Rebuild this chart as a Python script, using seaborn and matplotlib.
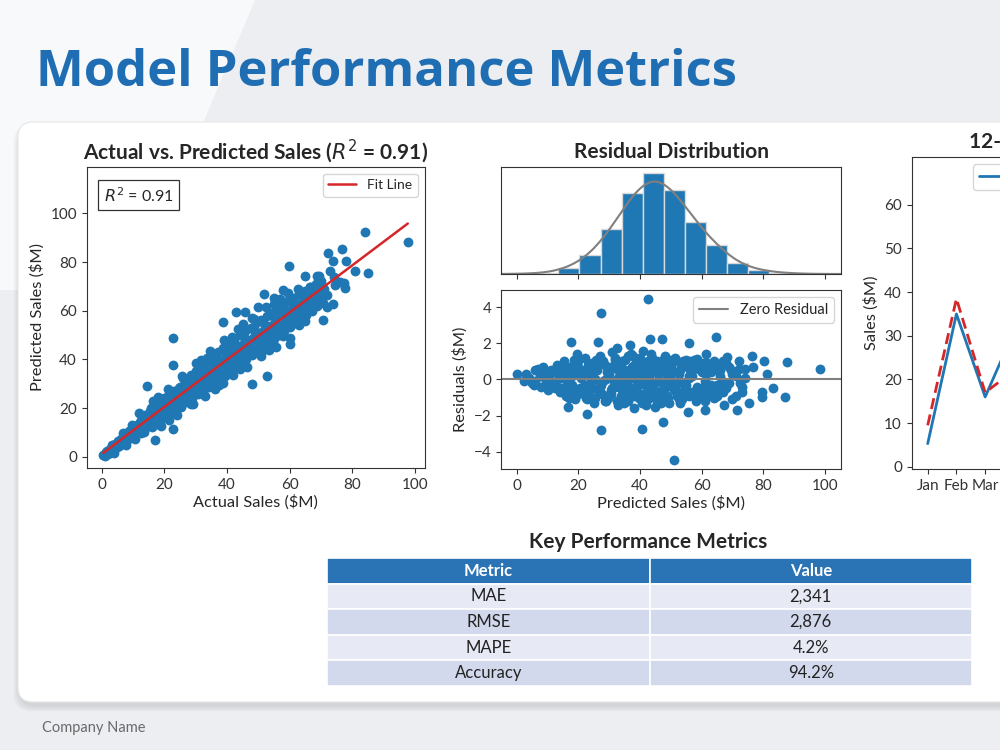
import numpy as np
import pandas as pd
import matplotlib.pyplot as plt
import seaborn as sns
from matplotlib.patches import FancyBboxPatch, Polygon

# ---- data ----
actual = [0.5, 1.0, 1.5, 2.0, 2.6, 3.0, 3.4, 3.9, 4.3, 4.8, 5.2, 5.6, 6.0, 6.4, 6.9, 7.3, 7.7, 8.1, 8.6, 9.0,
          9.5, 9.9, 10.3, 10.8, 11.2, 11.7, 12.1, 12.5,
          13.0, 13.4, 13.8, 14.3, 14.7, 15.1, 15.5, 16.0, 16.4, 16.8, 17.2, 17.7, 18.1, 18.5, 19.0, 19.4, 19.8,
          20.2, 20.7, 21.1, 21.5, 22.0, 22.4, 22.8, 23.2, 23.7, 24.1, 24.5, 25.0, 25.4,
          25.8, 26.3, 26.7, 27.1, 27.6, 28.0, 28.4, 28.9, 29.3, 29.7, 30.2, 30.6, 31.0, 31.5, 31.9, 32.3, 32.8,
          33.2, 33.6, 34.1, 34.5, 34.9, 35.4, 35.8, 36.2, 36.7, 37.1, 37.5, 38.0, 38.4, 38.8, 39.3, 39.7, 40.1,
          40.6, 41.0, 41.4, 41.9, 42.3, 42.7, 43.2, 43.6, 44.0, 44.5, 44.9,
          45.3, 45.8, 46.2, 46.6, 47.1, 47.5, 47.9, 48.4, 48.8, 49.2, 49.7, 50.1, 50.5, 51.0, 51.4, 51.8, 52.3,
          52.7, 53.1, 53.6, 54.0, 54.4, 54.9, 55.3, 55.7, 56.2, 56.6, 57.0, 57.5, 57.9, 58.3, 58.8, 59.2, 59.6,
          60.1, 60.5, 61.0, 61.4, 61.8, 62.3, 62.7, 63.1, 63.6, 64.0, 64.4, 64.9, 65.3, 65.7, 66.2, 66.6, 67.0,
          67.5, 67.9, 68.3, 68.8, 69.2, 69.6, 70.1, 70.5, 71.0,
          5.0, 8.0, 11.0, 14.0, 17.0, 20.0, 23.0, 26.0, 29.0, 32.0, 35.0, 38.0, 41.0, 44.0, 47.0, 50.0, 53.0,
          56.0, 59.0, 62.0, 65.0,
          19.0, 24.0, 28.5, 33.0, 37.5, 42.0, 46.5, 51.0, 55.5, 60.0,
          12.0, 16.5, 21.0, 25.5, 30.0, 34.5, 39.0, 43.5, 48.0, 52.5, 57.0,
          3.2, 6.7, 9.8, 12.9, 15.8, 18.8, 21.8, 24.7, 27.7, 30.7, 33.7, 36.6, 39.6, 42.6, 45.5, 48.5, 51.5,
          54.5, 57.4, 60.4, 63.4, 66.4,
          4.0, 7.6, 10.6, 13.6, 16.2, 19.3, 22.3, 25.2, 28.2, 31.2, 34.2, 37.2, 40.2, 43.1, 46.1, 49.1, 52.1,
          55.1, 58.0, 61.0, 64.0, 67.0, 69.9,
          1.8, 4.6, 7.1, 9.3, 12.3, 14.9, 17.5, 20.5, 22.9, 25.9, 28.6, 31.3, 34.0, 36.9, 39.4, 42.4, 45.1,
          47.7, 50.3, 53.3, 56.4, 58.6, 61.6, 64.6, 67.7, 70.4,
          26.0, 29.0, 33.5, 36.0, 41.5, 44.2, 48.6, 50.8, 55.0, 57.8, 62.6, 65.0, 69.5, 72.0, 74.5, 71.8, 73.0,
          76.0, 18.0, 21.5, 31.6, 38.6, 45.0, 53.5, 59.5, 63.0,
          84.0, 97.7, 72.3, 76.6, 73.9, 78.0, 80.9, 84.9, 59.9, 74.3, 77.3, 77.7, 73.9, 70.7, 60.1, 52.9, 47.9,
          22.7, 22.7, 14.4, 22.7, 17.0, 51.8, 64.9, 68.8, 67.6, 38.8, 42.9, 45.7, 50.0, 55.1, 58.0]
predicted = [0.8, 0.3, 1.9, 1.2, 3.1, 2.2, 4.0, 2.8, 5.2, 3.9, 6.3, 4.4, 7.5, 5.3, 8.1, 6.0, 9.2, 6.9, 10.4, 7.7,
             11.2, 8.4, 12.3, 9.6, 13.0, 10.1, 14.2, 9.9,
             15.8, 11.2, 17.1, 12.6, 16.0, 13.4, 19.0, 14.1, 20.2, 13.0, 18.3, 16.2, 21.9, 15.0, 22.6, 17.4, 24.1,
             16.3, 21.0, 19.2, 25.8, 18.1, 23.4, 20.0, 27.0, 19.3, 25.2, 22.1, 28.7, 20.6,
             26.4, 23.2, 31.2, 22.4, 29.0, 25.5, 33.6, 24.1, 30.8, 27.3, 35.1, 25.8, 32.4, 29.2, 37.3, 27.0, 34.2,
             31.0, 39.4, 28.5, 36.0, 32.6, 41.2, 30.1, 37.7, 34.5, 43.0, 32.0, 39.3, 36.2, 44.8, 33.4, 41.0, 38.0,
             46.5, 35.2, 42.6, 39.7, 48.2, 36.8, 44.1, 41.3, 50.0, 38.5, 45.8,
             43.0, 51.6, 40.2, 47.4, 44.6, 53.1, 42.0, 49.0, 46.3, 54.8, 43.5, 50.7, 48.1, 56.3, 45.2, 52.2, 49.8,
             57.9, 46.9, 53.9, 51.3, 59.2, 48.4, 55.6, 53.0, 60.8, 50.1, 57.2, 54.6, 62.4, 51.7, 58.8, 56.2, 63.9,
             53.2, 60.3, 57.9, 65.2, 55.0, 61.9, 59.4, 66.8, 56.6, 63.4, 61.1, 68.1, 58.3, 64.9, 62.5, 69.6, 60.0,
             66.4, 64.0, 71.0, 61.8, 67.8, 65.5, 72.3, 63.2, 69.1,
             5.4, 8.3, 11.6, 14.5, 17.3, 20.6, 23.4, 26.2, 29.5, 32.3, 35.6, 38.2, 41.5, 44.3, 47.6, 50.2, 53.5,
             56.3, 59.4, 62.2, 65.5,
             12.5, 17.0, 21.5, 25.0, 29.5, 33.5, 37.0, 41.5, 45.0, 49.0,
             18.0, 23.0, 28.0, 33.0, 38.5, 43.5, 48.0, 52.5, 57.0, 61.5, 65.0,
             5.0, 9.6, 13.1, 16.4, 19.9, 21.8, 25.2, 28.2, 31.5, 34.0, 37.6, 40.3, 43.4, 46.1, 49.3, 52.0, 55.4,
             58.1, 61.0, 63.8, 67.0, 69.9,
             1.6, 4.8, 7.3, 10.1, 12.3, 15.8, 18.7, 21.8, 24.6, 27.6, 30.4, 33.9, 36.5, 39.4, 42.6, 45.3, 48.0,
             51.2, 54.1, 56.9, 60.2, 63.0, 66.1,
             2.5, 4.1, 7.6, 9.0, 12.8, 14.4, 18.1, 20.0, 23.6, 25.3, 29.3, 30.8, 34.6, 36.4, 40.0, 41.8, 45.7,
             47.2, 51.0, 52.7, 57.0, 58.1, 62.3, 64.1, 68.2, 70.0,
             32.5, 21.8, 40.8, 28.0, 49.3, 36.0, 56.8, 42.6, 62.7, 49.6, 69.0, 56.0, 74.5, 66.5, 70.5, 61.5, 76.5,
             72.0, 24.5, 15.0, 39.8, 30.5, 54.5, 44.0, 67.5, 54.0,
             92.2, 88.1, 83.6, 85.2, 80.4, 80.4, 76.4, 75.6, 78.5, 74.0, 71.5, 69.5, 62.6, 56.2, 46.3, 33.2, 29.9,
             48.9, 37.9, 29.2, 11.4, 6.8, 67.1, 74.4, 74.4, 68.5, 55.2, 59.6, 59.3, 61.6, 65.1, 68.5]

res_pred = [2.5, 4.0, 5.5, 7.0, 8.0, 9.0, 10.0, 11.0, 12.0, 13.0, 14.0, 15.0, 15.5, 16.0, 17.0, 18.0, 18.5, 19.0,
            20.0, 20.5, 21.0, 22.0, 22.5, 23.0, 24.0, 24.5, 25.0, 26.0, 26.5, 27.0, 28.0, 28.5, 29.0, 30.0, 30.5,
            31.0, 32.0, 32.5, 33.0, 34.0, 34.5, 35.0, 35.5, 36.0, 37.0, 37.5, 38.0, 38.5, 39.0, 39.5, 40.0, 40.5,
            41.0, 41.5, 42.0, 42.5, 43.0, 43.5, 44.0, 44.5, 45.0, 45.5, 46.0, 46.5, 47.0, 48.0, 48.5, 49.0, 49.5,
            50.0, 51.0, 51.5, 52.0, 53.0, 53.5, 54.0, 55.0, 55.5, 56.0, 57.0, 57.5, 58.0, 59.0, 60.0, 60.5, 61.0,
            62.0, 63.0, 64.0, 64.5, 65.0, 66.0, 67.0, 68.0, 69.0, 70.0, 71.0, 72.0, 73.0, 74.0,
            6.0, 10.5, 13.5, 16.5, 19.5, 21.5, 23.5, 25.5, 27.5, 29.5, 31.5, 33.5, 35.8, 37.8, 39.8, 41.8, 43.8,
            45.8, 47.8, 49.8, 51.8, 53.8, 55.8, 58.5, 61.5, 63.5, 66.5, 69.5, 72.5,
            24.8, 28.8, 33.8, 36.8, 40.8, 44.8, 48.8, 52.8, 56.8, 60.8, 65.5,
            3.0, 5.0, 7.5, 9.5, 11.5, 12.5, 14.5, 16.0, 17.5, 18.0, 19.0, 20.0, 21.0, 22.0, 23.0, 23.5, 24.5,
            25.5, 26.5, 27.0, 28.0, 29.0, 29.5, 30.5, 31.0, 32.0, 32.5, 33.0, 34.0, 35.0, 35.5, 36.0, 36.5, 37.0,
            38.0, 38.5, 39.0, 40.0, 40.5, 41.0, 42.0, 42.5, 43.0, 43.5, 44.0, 45.0, 45.5, 46.0, 47.0, 47.5, 48.0,
            49.0, 50.0, 50.5, 51.0, 52.0, 52.5, 53.0, 54.0, 54.5, 55.0, 56.0, 57.0, 58.0, 59.0, 60.0, 61.0, 62.0,
            63.0, 64.0, 65.0, 66.0, 67.0, 68.0, 69.0, 70.0, 71.0, 72.0, 73.0, 74.0, 8.5, 6.0, 10.0, 13.5, 15.0,
            14.2, 15.7, 17.2, 18.7, 20.2, 21.7, 23.2, 24.7, 26.2, 27.7, 29.2, 30.7, 32.2, 33.7, 35.2, 36.7, 38.2,
            39.7, 41.2, 42.7, 44.2, 45.7, 47.2, 48.7, 50.2, 51.7, 53.2, 54.7, 56.2, 57.7, 59.2, 60.7, 62.2, 63.7,
            65.2, 66.7,
            16.8, 19.8, 22.8, 25.8, 28.8, 31.8, 34.8, 37.8, 40.8, 43.8, 46.8, 49.8, 52.8, 55.8, 58.8, 61.8, 64.8,
            42.7, 27.4, 17.6, 26.5, 43.2, 47.0, 56.0, 64.6, 76.2, 80.3, 87.8, 98.3, 81.1, 83.2, 87.0, 79.5, 79.7,
            75.5, 71.6, 76.5, 0.0, 22.7, 27.4, 40.5, 47.4, 51.0, 16.5, 61.1, 55.7, 67.2, 68.1, 61.3, 58.4, 19.5,
            36.8, 32.4]
res_val = [-0.1, 0.1, -0.3, 0.6, -0.4, 0.3, -0.6, 0.5, -0.2, 0.8, -0.7, 0.2, 1.0, -0.9, 0.4, -0.3, 1.1, -1.1,
           0.7, -0.5, 0.1, 1.2, -1.0, 0.4, -0.2, 0.9, -1.3, 0.5, -0.6, 1.3, -0.1, 0.8, -1.2, 0.3, -0.8,
           1.5, -0.4, 0.6, -1.4, 1.0, -0.2, 0.2, -1.0, 1.3, -0.5, 0.7, -1.6, 0.0, 1.1, -0.9, 0.4, -1.3,
           1.6, -0.3, 0.8, -1.1, 0.1, 1.4, -0.7, 0.5, -1.5, 1.0, -0.1, 0.6, -1.0, 1.3, -0.4, 0.3, -1.3,
           0.9, -0.6, 1.2, -0.2, 0.5, -1.1, 1.0, -0.3, 0.7, -0.9, 0.2, 1.1, -1.2, 0.6, -0.5, 0.9, -0.1,
           -0.8, 0.4, -1.0, 0.8, -0.3, 0.5, -0.7, 0.9, -0.2, 0.3, -0.9, 0.6, -0.4, 0.1,
           -0.1, 0.1, 0.3, -0.2, 0.4, -0.4, 0.2, 0.0, -0.3, 0.5, -0.1, 0.3, -0.4, 0.4, -0.2, 0.2, -0.3,
           0.3, -0.5, 0.1, 0.4, -0.2, 0.2, -0.4, 0.3, -0.5, -0.1, 0.5, -0.2,
           0.7, -0.9, 0.9, -0.8, 0.9, -0.9, 0.8, -0.8, 0.6, -0.7, 0.7,
           0.3, -0.2, 0.2, -0.1, 0.4, -0.5, 0.1, 0.6, -0.6, 0.2, 0.9, -0.8, 0.5, -0.3, 0.8, -0.7, 0.3,
           -1.0, 0.9, -0.4, 1.0, 0.0, -1.0, 0.7, -0.5, 1.1, -1.2, 0.1, -0.6, 1.1, 0.4, -1.2, 0.0, 1.4,
           -0.9, 0.6, -0.4, 1.2, 0.1, -0.8, -1.4, 1.0, -0.5, 0.4, 1.1, -0.2, -1.2, 0.8, -0.6, 1.1, -0.1,
           -1.0, 0.6, -0.3, 1.0, -0.9, 0.3, -1.3, 0.8, -0.5, 1.1, 0.1, -0.7, 0.9, -1.0, 0.4, -1.2, 0.7,
           -0.3, 1.0, -0.9, 0.2, 1.0, -0.5, 0.7, -1.1, 0.2, 1.0, -0.7, 0.6, 0.7, 0.5, -0.4, -0.4, 0.8,
           0.5, -0.4, 0.7, -0.6, 0.3, -0.7, 0.6, -0.5, 0.8, -0.8, 0.4, -0.6, 0.9, -0.9, 0.5, -0.7, 0.8,
           -1.0, 0.6, -0.8, 0.9, -0.7, 0.4, -0.9, 0.7, -0.6, 0.8, -0.7, 0.5, -0.8, 0.6, -0.5, 0.4, -0.6,
           0.5, -0.4,
           -1.0, 1.0, -1.1, 1.1, -1.2, 1.2, -1.3, 1.3, -1.2, 1.2, -1.3, 1.1, -1.1, 1.0, -1.0, 0.9, -0.8,
           4.46, 3.67, 2.09, 2.09, 2.22, 2.22, 2.0, 2.37, 1.31, 1.02, 0.94, 0.57, 0.28, -0.46, -0.96, -0.69, -0.96,
           -1.33, -1.70, 0.70, 0.28, -1.94, -2.81, -2.76, -2.35, -4.44, -1.52, -1.67, -1.80, -1.43, 1.26, 1.41, 1.11,
           1.39, 1.91, 1.72]

hist_edges = [-0.2, 6.65, 13.5, 20.35, 27.2, 34.05, 40.9, 47.75, 54.6, 61.45, 68.3, 75.15, 82.0, 88.85, 95.7]
hist_counts = [1, 4, 19, 57, 135, 242, 302, 252, 157, 87, 32, 12, 4, 1]

months = ["Jan", "Feb", "Mar", "Apr", "May", "Jun", "Jul", "Aug", "Sep", "Oct", "Nov", "Dec"]
month_actual = [5.3, 35.0, 16.0, 31.0, 44.0, 38.0, 52.0, 47.0, 40.0, 55.0, 48.0, 60.0]
month_pred = [9.5, 38.5, 17.0, 22.0, 41.0, 40.0, 50.0, 45.0, 43.0, 52.0, 50.0, 58.0]

metric_names = ["MAE", "RMSE", "MAPE", "Accuracy"]
metric_values = ["2,341", "2,876", "4.2%", "94.2%"]

BLUE = "#1f77b4"
RED = "#d62728"

sns.set_style("ticks")
plt.rcParams["font.family"] = ["Lato", "DejaVu Sans"]
plt.rcParams["axes.edgecolor"] = "#333333"
plt.rcParams["xtick.color"] = "#333333"
plt.rcParams["ytick.color"] = "#333333"
plt.rcParams["xtick.labelsize"] = 11
plt.rcParams["ytick.labelsize"] = 11
plt.rcParams["axes.labelsize"] = 11.8

fig = plt.figure(figsize=(10, 7.5), dpi=100, facecolor="#eceef1")

# slide background + card
fig.add_artist(Polygon([(0, 7.5), (2.55, 7.5), (2.0, 6.2), (1.5, 4.6), (0, 4.6)],
                       transform=fig.dpi_scale_trans, fc="#f8f9fb", ec="none", zorder=-5))
for i, a in enumerate([0.03, 0.03, 0.04]):
    fig.add_artist(FancyBboxPatch((0.18 - 0.02 * i, 0.48 - 0.05 - 0.02 * i), 10.5, 5.8 + 0.03 * i,
                                  boxstyle="round,pad=0,rounding_size=0.18",
                                  transform=fig.dpi_scale_trans, fc="black", ec="none", alpha=a, zorder=-4))
fig.add_artist(FancyBboxPatch((0.18, 0.48), 10.5, 5.8, boxstyle="round,pad=0,rounding_size=0.15",
                              transform=fig.dpi_scale_trans, fc="white", ec="#e6e6e6", lw=0.8, zorder=-3))

fig.text(0.036, 0.902, "Model Performance Metrics", fontsize=36.5, fontweight="bold",
         color="#1f6db3", ha="left", va="center", family=["Open Sans", "DejaVu Sans"])
fig.text(0.042, 0.029, "Company Name", fontsize=10.5, color="#6a6a6a", ha="left", va="center")

# ---- panel 1: actual vs predicted ----
ax1 = fig.add_axes([0.0867, 0.376, 0.3383, 0.4017])
sns.scatterplot(x=actual, y=predicted, ax=ax1, s=50, color=BLUE, linewidth=0, alpha=1)
sns.regplot(x=actual, y=predicted, ax=ax1, scatter=False, ci=None, color=RED,
            line_kws={"lw": 1.8}, label="Fit Line")
ax1.set_xlim(-4.8, 103.2)
ax1.set_ylim(-4.6, 119.2)
ax1.set_xticks([0, 20, 40, 60, 80, 100])
ax1.set_yticks([0, 20, 40, 60, 80, 100])
ax1.set_xlabel("Actual Sales ($M)", labelpad=2)
ax1.set_ylabel("Predicted Sales ($M)")
ax1.set_title("Actual vs. Predicted Sales ($R^2$ = 0.91)", fontsize=15, fontweight="bold", pad=6)
ax1.text(0.05, 0.905, "$R^2$ = 0.91", transform=ax1.transAxes, fontsize=11.5, va="center",
         bbox=dict(boxstyle="square,pad=0.35", fc="white", ec="#333333", lw=0.9))
ax1.legend(loc="upper right", fontsize=10, frameon=True, fancybox=True)

# ---- panel 2: residual distribution ----
ax2h = fig.add_axes([0.501, 0.6347, 0.340, 0.143])
centers = [(hist_edges[i] + hist_edges[i + 1]) / 2 for i in range(len(hist_counts))]
sns.histplot(x=centers, weights=hist_counts, bins=hist_edges, ax=ax2h, kde=True,
             kde_kws={"bw_adjust": 0.5, "cut": 4}, color=BLUE, alpha=1,
             edgecolor="#d9d9d9", linewidth=1)
ax2h.lines[-1].set_color("#808080")
ax2h.lines[-1].set_linewidth(1.5)
ax2h.set_xlim(-5.1, 105.2)
ax2h.set_ylim(0, 322)
ax2h.set_yticks([])
ax2h.set_xticks([0, 20, 40, 60, 80, 100])
ax2h.set_xticklabels([])
ax2h.set_ylabel("")
ax2h.set_title("Residual Distribution", fontsize=15, fontweight="bold", pad=6)

ax2 = fig.add_axes([0.501, 0.3747, 0.340, 0.2387])
sns.scatterplot(x=res_pred, y=res_val, ax=ax2, s=50, color=BLUE, linewidth=0, alpha=1)
ax2.axhline(0, color="#808080", lw=1.5, label="Zero Residual")
ax2.set_xlim(-5.1, 105.2)
ax2.set_ylim(-4.96, 4.96)
ax2.set_xticks([0, 20, 40, 60, 80, 100])
ax2.set_yticks([-4, -2, 0, 2, 4])
ax2.set_xlabel("Predicted Sales ($M)", labelpad=2)
ax2.set_ylabel("Residuals ($M)")
ax2.legend(loc="upper right", fontsize=10.5, frameon=True)

# ---- panel 3: monthly trend (runs off the slide) ----
ax3 = fig.add_axes([0.9117, 0.3747, 0.348, 0.4163])
trend = pd.DataFrame({"Month": months * 2,
                      "Sales": month_actual + month_pred,
                      "Series": ["Actual"] * 12 + ["Predicted"] * 12})
sns.lineplot(data=trend, x="Month", y="Sales", hue="Series", style="Series", ax=ax3,
             palette={"Actual": BLUE, "Predicted": RED},
             dashes={"Actual": "", "Predicted": (4, 2)}, lw=2, sort=False)
ax3.set_xlim(-0.557, 11.557)
ax3.set_ylim(-0.5, 71)
ax3.set_yticks([0, 10, 20, 30, 40, 50, 60])
ax3.set_xlabel("")
ax3.set_ylabel("Sales ($M)")
ax3.set_title("12-Month Sales Forecast", fontsize=15, fontweight="bold", pad=6)
ax3.legend(loc="upper center", ncol=2, fontsize=10.5, title=None)

# ---- table ----
fig.text(0.648, 0.277, "Key Performance Metrics", fontsize=15, fontweight="bold",
         ha="center", va="center")
axt = fig.add_axes([0.327, 0.0853, 0.645, 0.1707])
axt.axis("off")
tbl = axt.table(cellText=[[m, v] for m, v in zip(metric_names, metric_values)],
                colLabels=["Metric", "Value"], cellLoc="center", bbox=[0, 0, 1, 1])
tbl.auto_set_font_size(False)
row_colors = ["#e7eaf5", "#d3d9ec"]
for (r, c), cell in tbl.get_celld().items():
    cell.set_edgecolor("white")
    cell.set_linewidth(1.2)
    cell.get_text().set_fontsize(12)
    if r == 0:
        cell.set_facecolor("#2a73b5")
        cell.get_text().set_color("white")
        cell.get_text().set_fontweight("bold")
    else:
        cell.set_facecolor(row_colors[(r - 1) % 2])
        cell.get_text().set_color("#222222")

fig.savefig("out.png", dpi=100, facecolor=fig.get_facecolor())
